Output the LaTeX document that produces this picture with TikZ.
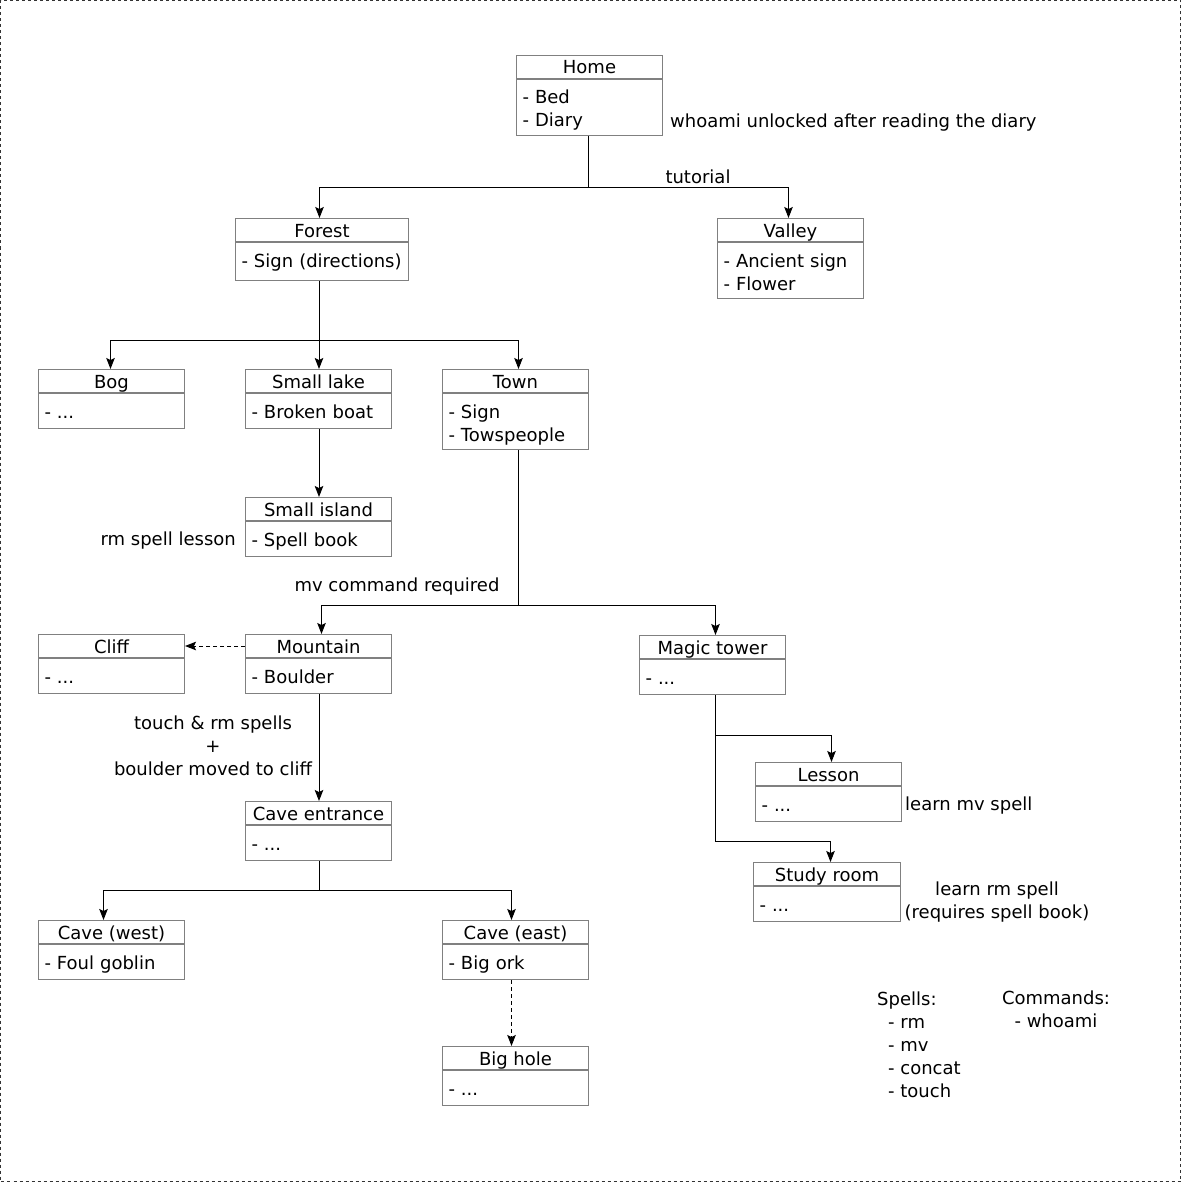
\documentclass[tikz,border=0pt]{standalone}
\usepackage{fontspec}
\setmainfont{DejaVu Sans}
\usetikzlibrary{arrows.meta}
\definecolor{boxgray}{HTML}{808080}
\newdimen\roomtw
\newdimen\roomtd
% name, x, y, width, body height, title, body
\newcommand\roombox[7]{%
  \roomtw=\dimexpr#4pt-12pt\relax
  \roomtd=\dimexpr#5pt-24.5pt\relax
  \node[hdr, minimum width=#4pt] (#1) at (#2,#3) {#6};
  \node[bodybox, minimum width=#4pt, text width=\roomtw, text depth=\roomtd] (#1-b) at (#1.south west) {#7};
}
\begin{document}
\begin{tikzpicture}[x=1pt,y=-1pt,
  every node/.style={font=\fontsize{18}{23}\selectfont, text=black},
  hdr/.style={draw=boxgray, line width=1pt, text height=18.5pt, text depth=4.5pt, inner sep=0pt, anchor=north west},
  bodybox/.style={draw=boxgray, line width=1pt, inner xsep=6pt, inner ysep=0pt, text height=24.5pt, anchor=north west, align=left},
  conn/.style={draw=black, line width=1pt},
  arr/.style={conn, -{Stealth[length=11pt,width=8.5pt,inset=2pt]}},
  darr/.style={arr, dash pattern=on 4pt off 3pt},
  lbl/.style={inner sep=0pt, align=center}]
\useasboundingbox (0,0) rectangle (1181,1182);
\draw[dash pattern=on 3pt off 3pt, line width=1pt, draw=black!80] (0.5,0.5) rectangle (1180.5,1181.5);

\roombox{home}{516}{55}{146}{56}{Home}{- Bed\\- Diary}
\roombox{forest}{235}{218}{173}{38}{Forest}{- Sign (directions)}
\roombox{valley}{717}{218}{146}{56}{Valley}{- Ancient sign\\- Flower}
\roombox{bog}{38}{369}{146}{35}{Bog}{- ...}
\roombox{lake}{245}{369}{146}{35}{Small lake}{- Broken boat}
\roombox{town}{442}{369}{146}{56}{Town}{- Sign\\- Towspeople}
\roombox{island}{245}{497}{146}{35}{Small island}{- Spell book}
\roombox{cliff}{38}{634}{146}{35}{Cliff}{- ...}
\roombox{mountain}{245}{634}{146}{35}{Mountain}{- Boulder}
\roombox{magic}{639}{635}{146}{35}{Magic tower}{- ...}
\roombox{lesson}{755}{762}{146}{35}{Lesson}{- ...}
\roombox{cave}{245}{801}{146}{35}{Cave entrance}{- ...}
\roombox{study}{753}{862}{147}{35}{Study room}{- ...}
\roombox{cavew}{38}{920}{146}{35}{Cave (west)}{- Foul goblin}
\roombox{cavee}{442}{920}{146}{35}{Cave (east)}{- Big ork}
\roombox{bighole}{442}{1046}{146}{35}{Big hole}{- ...}

\node[lbl, anchor=west] (lwho) at (670,123) {whoami unlocked after reading the diary};
\node[lbl] (ltut) at (698,177) {tutorial};
\node[lbl, anchor=east] (lrm) at (236,541) {rm spell lesson};
\node[lbl] (lmv) at (397,587) {mv command required};
\node[lbl] (ltouch) at (213,746) {touch \& rm spells\\+\\boulder moved to cliff};
\node[lbl, anchor=west] (llearnmv) at (905,806) {learn mv spell};
\node[lbl] (llearnrm) at (997,902.5) {learn rm spell\\(requires spell book)};
\node[lbl, anchor=west, align=left] (spells) at (877,1044.5) {Spells:\\\hspace*{11pt}- rm\\\hspace*{11pt}- mv\\\hspace*{11pt}- concat\\\hspace*{11pt}- touch};
\node[lbl] (commands) at (1056,1009) {Commands:\\- whoami};

\coordinate (j1) at (588,188);
\draw[conn] (j1 |- home-b.south) -- (j1);
\draw[arr] (j1) -| ([xshift=-2.5pt]forest.north);
\draw[arr] (j1) -| ([xshift=-2pt]valley.north);

\coordinate (j2) at (319,340);
\draw[conn] (j2 |- forest-b.south) -- (j2);
\draw[arr] (j2) -| ([xshift=-1pt]bog.north);
\draw[arr] (j2) -- (j2 |- lake.north);
\draw[arr] (j2) -| ([xshift=3pt]town.north);
\draw[arr] (j2 |- lake-b.south) -- (j2 |- island.north);

\coordinate (j3) at (518,605);
\draw[conn] (j3 |- town-b.south) -- (j3);
\draw[arr] (j3) -| ([xshift=3pt]mountain.north);
\draw[arr] (j3) -| ([xshift=3pt]magic.north);
\draw[darr] (mountain.west) -- (cliff.east);
\draw[arr] (j2 |- mountain-b.south) -- (j2 |- cave.north);

\coordinate (j4) at (319,890);
\draw[conn] (j4 |- cave-b.south) -- (j4);
\draw[arr] (j4) -| ([xshift=-8pt]cavew.north);
\draw[arr] (j4) -| ([xshift=-4pt]cavee.north);
\draw[darr] ([xshift=-4pt]cavee-b.south) -- ([xshift=-4pt]bighole.north);

\coordinate (j5) at (715,735);
\coordinate (j6) at (715,841);
\draw[conn] (j6 |- magic-b.south) -- (j6);
\draw[arr] (j5) -| ([xshift=3pt]lesson.north);
\draw[arr] (j6) -| ([xshift=3.5pt]study.north);
\end{tikzpicture}
\end{document}
